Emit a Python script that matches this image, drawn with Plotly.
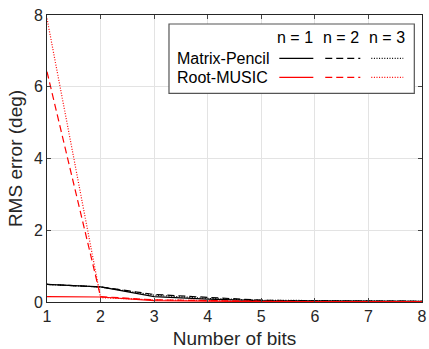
import plotly.graph_objects as go

bits = [1, 2, 3, 4, 5, 6, 7, 8]
mp_n1 = [0.49, 0.42, 0.15, 0.08, 0.04, 0.03, 0.02, 0.02]
mp_n2 = [0.49, 0.42, 0.21, 0.12, 0.05, 0.03, 0.02, 0.02]
mp_n3 = [0.49, 0.42, 0.19, 0.10, 0.05, 0.03, 0.03, 0.02]
rm_n1 = [0.15, 0.14, 0.04, 0.02, 0.01, 0.01, 0.01, 0.01]
rm_n2 = [6.42, 0.15, 0.06, 0.03, 0.02, 0.01, 0.01, 0.01]
rm_n3 = [7.90, 0.12, 0.06, 0.03, 0.02, 0.01, 0.01, 0.01]

methods = ["Matrix-Pencil", "Root-MUSIC"]
orders = ["n = 1", "n = 2", "n = 3"]
colors = {"Matrix-Pencil": "black", "Root-MUSIC": "#ff0000"}
dashes = ["solid", "7px,4px", "1px,1.6px"]

series = {
    "Matrix-Pencil": [mp_n1, mp_n2, mp_n3],
    "Root-MUSIC": [rm_n1, rm_n2, rm_n3],
}

FONT = "Liberation Sans, Arial, sans-serif"
FS = 16

fig = go.Figure()
for m in methods:
    for i, ys in enumerate(series[m]):
        fig.add_trace(go.Scatter(
            x=bits, y=ys, mode="lines", showlegend=False,
            line=dict(color=colors[m], width=1.2, dash=dashes[i]),
        ))

# custom table legend (paper coordinates)
shapes = [dict(type="rect", xref="paper", yref="paper",
               x0=0.3253, x1=0.9795, y0=0.7269, y1=0.9686,
               line=dict(color="#555555", width=1.2), fillcolor="white", layer="above")]
annotations = []
head_x = [0.662, 0.784, 0.907]
samp = [(0.6195, 0.7102), (0.742, 0.8355), (0.8648, 0.95)]
row_y = [0.849, 0.783]
for i, o in enumerate(orders):
    annotations.append(dict(text=o, x=head_x[i], y=0.9208, xref="paper", yref="paper",
                            showarrow=False, xanchor="center", yanchor="middle",
                            font=dict(size=FS, color="black", family=FONT)))
for r, m in enumerate(methods):
    annotations.append(dict(text=m, x=0.341, y=row_y[r], xref="paper", yref="paper",
                            showarrow=False, xanchor="left", yanchor="middle",
                            font=dict(size=FS, color="black", family=FONT)))
    for i in range(3):
        shapes.append(dict(type="line", xref="paper", yref="paper",
                           x0=samp[i][0], x1=samp[i][1], y0=row_y[r], y1=row_y[r],
                           line=dict(color=colors[m], width=1.2, dash=dashes[i]), layer="above"))

fig.update_layout(
    width=429, height=349,
    margin=dict(l=47, r=7, t=15, b=47, autoexpand=False),
    paper_bgcolor="white", plot_bgcolor="white",
    font=dict(family=FONT, size=FS, color="#262626"),
    shapes=shapes, annotations=annotations,
    xaxis=dict(range=[1, 8], tickvals=bits, ticks="inside", ticklen=4,
               showgrid=True, gridcolor="#e3e3e3", gridwidth=1,
               showline=True, linecolor="#262626", linewidth=1, mirror="ticks",
               zeroline=False, automargin=False,
               title=dict(text="Number of bits", standoff=9),
               tickfont=dict(size=FS)),
    yaxis=dict(range=[0, 8], tickvals=[0, 2, 4, 6, 8], ticks="inside", ticklen=4,
               showgrid=True, gridcolor="#e3e3e3", gridwidth=1,
               showline=True, linecolor="#262626", linewidth=1, mirror="ticks",
               zeroline=False, automargin=False,
               title=dict(text="RMS error (deg)", standoff=6),
               tickfont=dict(size=FS)),
)

fig.write_html("out.html")
